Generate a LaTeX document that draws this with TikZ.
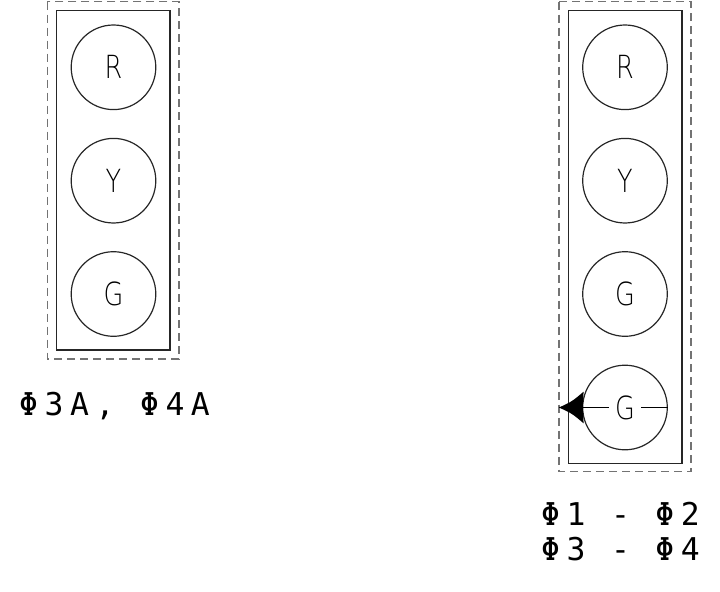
\documentclass[tikz,border=0pt]{standalone}
\usepackage{fontspec}
\newfontfamily\cadfont[LetterSpace=21]{DejaVu Sans Mono}
\newfontfamily\lampfont[FakeStretch=0.8]{DejaVu Sans ExtraLight}
\begin{document}
\begin{tikzpicture}[x=1bp,y=-1bp,
  envelope/.style={draw=black!55, line width=1.5bp, dash pattern=on 8bp off 5bp},
  housing/.style={draw=black!85, line width=1.5bp},
  lamp/.style={circle, draw=black!85, line width=1.2bp, minimum size=84.6bp, inner sep=0pt,
    font=\lampfont\fontsize{32}{32}\selectfont},
  lamplabel/.style={fill=white, inner xsep=6bp, inner ysep=1bp, font=\lampfont\fontsize{32}{32}\selectfont},
  phase/.style={anchor=base west, inner sep=0pt, font=\cadfont\fontsize{31.5}{31.5}\selectfont}]
\useasboundingbox (0,0) rectangle (720,592);
% left signal head
\draw[envelope] (47.3,1.7) rectangle (179,359);
\draw[housing] (56.7,10.7) rectangle (170,350);
\node[lamp] (lr) at (113.5,67.3) {R};
\node[lamp] (ly) at (113.5,180.7) {Y};
\node[lamp] (lg) at (113.5,294) {G};
\node[phase] (lt) at (19,415) {Φ3A, Φ4A};
% right signal head
\draw[envelope] (559,1.7) rectangle (691,471.7);
\draw[housing] (568.3,10.7) rectangle (682,463.3);
\node[lamp] (rr) at (625,67.3) {R};
\node[lamp] (ry) at (625,180.7) {Y};
\node[lamp] (rg) at (625,294) {G};
\node[lamp] (rg2) at (625,407.5) {};
\coordinate (tip) at (559,407.5);
\node[lamplabel] (rg2l) at (rg2) {G};
\draw[line width=1.1bp] (tip) -- (rg2l.west);
\draw[line width=1.1bp] (rg2l.east) -- (rg2.east);
\fill (tip) .. controls (572,401.5) .. (583.6,391.7) -- (582.7,407.5) -- (583.6,423.3) .. controls (572,413.5) .. (tip) -- cycle;
\node[phase] (rt1) at (541,525) {Φ1 - Φ2};
\node[phase] (rt2) at (541,560.7) {Φ3 - Φ4};
\end{tikzpicture}
\end{document}
